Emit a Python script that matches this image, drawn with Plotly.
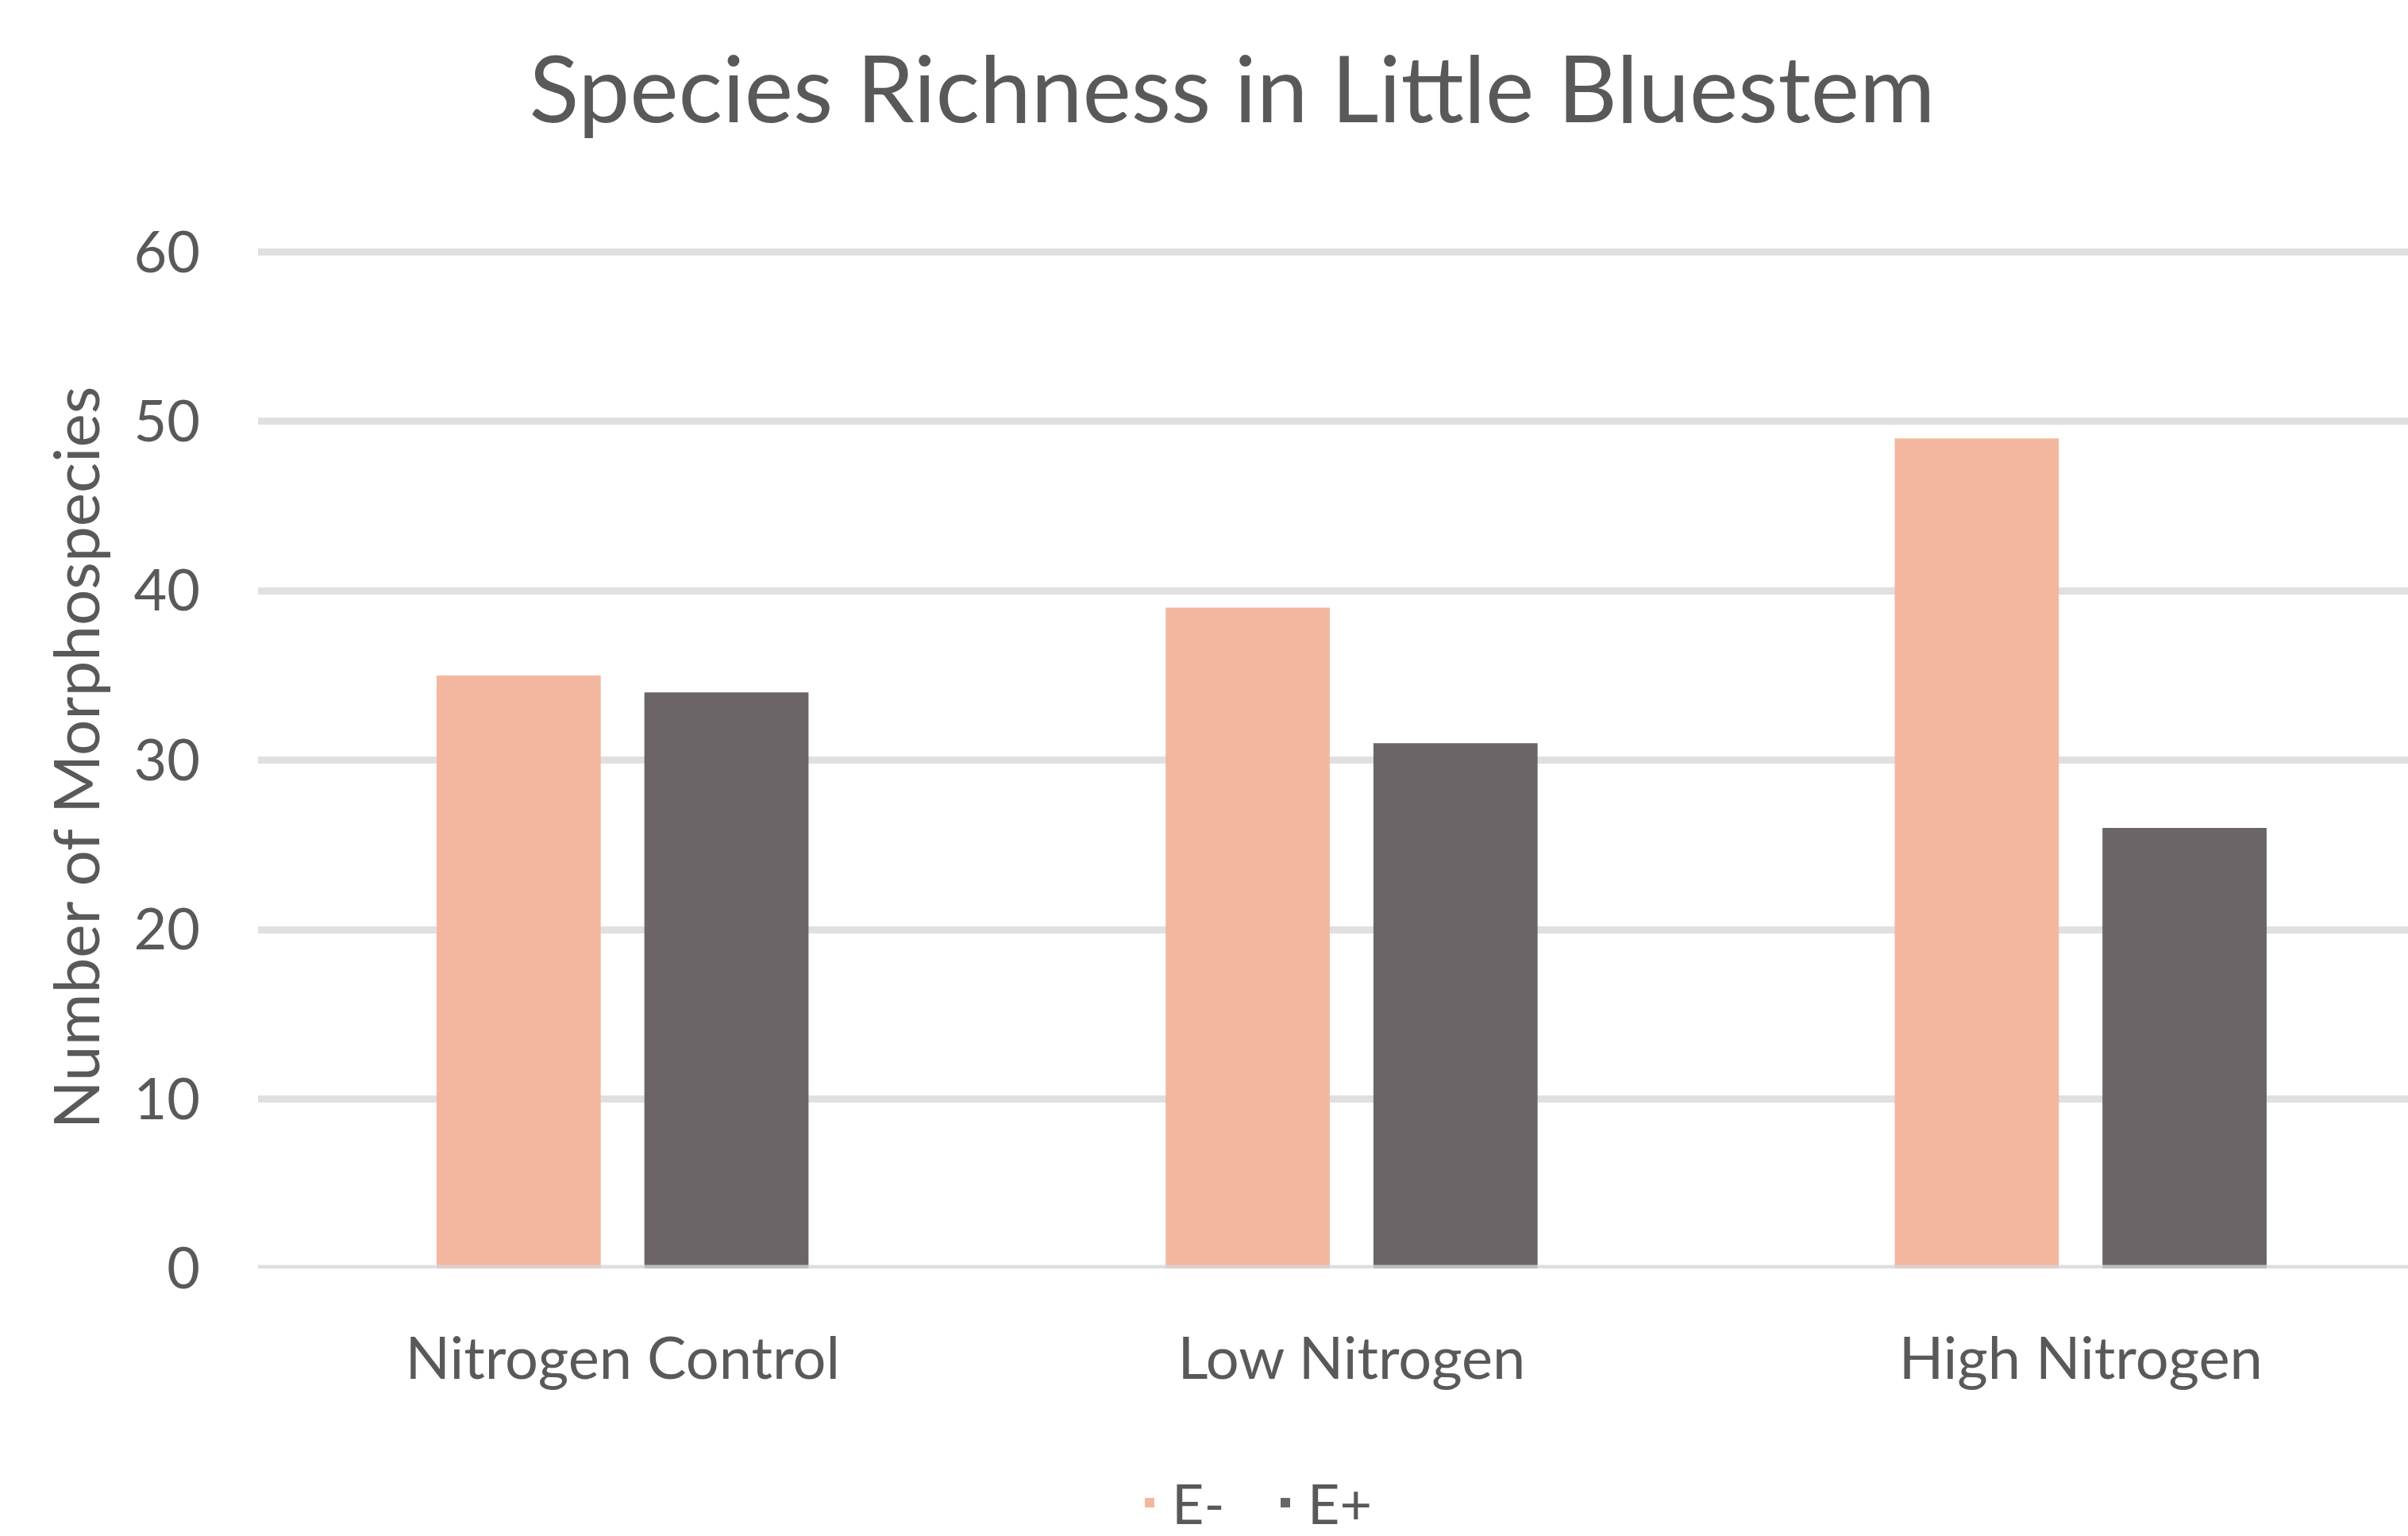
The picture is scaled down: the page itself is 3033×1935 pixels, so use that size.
import plotly.graph_objects as go

# Species richness (number of morphospecies) per nitrogen treatment
categories = ["Nitrogen Control", "Low Nitrogen", "High Nitrogen"]
e_minus = [35, 39, 49]
e_plus = [34, 31, 26]
series_names = ["E-", "E+"]
y_ticks = [0, 10, 20, 30, 40, 50, 60]

TEXT = "#595959"
FONT = "Lato"

fig = go.Figure()
fig.add_trace(go.Bar(x=categories, y=e_minus, name=series_names[0],
                     marker=dict(color="#F3B7A0", line=dict(width=0))))
fig.add_trace(go.Bar(x=categories, y=e_plus, name=series_names[1],
                     marker=dict(color="#6B6567", line=dict(width=0))))

# baseline drawn over the bar bottoms
fig.add_shape(type="line", xref="paper", yref="y", x0=0, x1=1, y0=0, y1=0,
              line=dict(color="rgba(214,214,214,0.78)", width=9), layer="above")

fig.update_layout(
    width=3033, height=1935,
    margin=dict(l=325, r=0, t=311, b=337, pad=0, autoexpand=False),
    paper_bgcolor="white", plot_bgcolor="white",
    barmode="group", bargap=0.43, bargroupgap=0.21,
    font=dict(family=FONT, color=TEXT),
    title=dict(text="Species Richness in Little Bluestem",
               font=dict(family=FONT, size=116, color=TEXT),
               x=0.5117, xref="container", xanchor="center",
               y=1 - 113 / 1935, yref="container", yanchor="middle"),
    xaxis=dict(range=[-0.5, 2.449], showgrid=False, zeroline=False, showline=False,
               ticks="", tickfont=dict(family=FONT, size=74, color=TEXT),
               ticklabelstandoff=64),
    yaxis=dict(range=[0, 60.3], tickvals=y_ticks, showgrid=True, gridcolor="#E0E0E0",
               gridwidth=9, zeroline=False, showline=False, ticks="",
               tickfont=dict(family=FONT, size=72, color=TEXT),
               ticklabelstandoff=72,
               title=dict(text="Number of Morphospecies",
                          font=dict(family=FONT, size=80, color=TEXT), standoff=16)),
    legend=dict(orientation="h", x=0.4675, xanchor="center", y=-0.2292, yanchor="middle",
                font=dict(family=FONT, size=70, color=TEXT), itemwidth=46,
                entrywidth=110, bgcolor="rgba(0,0,0,0)"),
    showlegend=True,
)

fig.write_html("out.html")
